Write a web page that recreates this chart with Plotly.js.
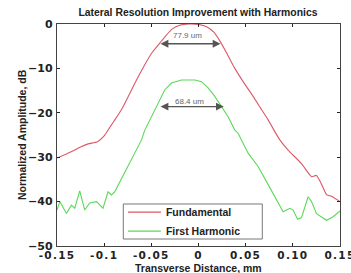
<!DOCTYPE html>
<html>
<head>
<meta charset="utf-8">
<script src="https://cdn.plot.ly/plotly-3.0.1.min.js"></script>
<style>html,body{margin:0;padding:0;background:#fff;}#chart{width:351px;height:273px;}.xtick text{letter-spacing:1.3px;}</style>
</head>
<body>
<div id="chart"></div>
<script>
var fundX = [-0.150, -0.135, -0.125, -0.117, -0.107, -0.100, -0.095, -0.090, -0.0817, -0.0737, -0.0657, -0.0578, -0.0498, -0.041, -0.0345, -0.0276, -0.020, -0.010, 0.000, 0.0085, 0.016, 0.0226, 0.030, 0.0385, 0.048, 0.0579, 0.066, 0.0738, 0.0862, 0.095, 0.109, 0.120, 0.125, 0.130, 0.136, 0.141, 0.150];
var fundY = [-30.2, -28.8, -27.7, -27.0, -26.5, -25.2, -23.6, -22.0, -19.3, -16.0, -12.6, -9.5, -6.6, -4.3, -2.6, -1.1, -0.3, 0.0, -0.1, -0.6, -1.8, -3.8, -6.6, -10.0, -13.2, -16.3, -19.0, -21.6, -26.1, -28.4, -31.4, -34.4, -34.1, -35.9, -38.5, -38.8, -40.0];
var harmX = [-0.150, -0.147, -0.140, -0.1347, -0.1312, -0.1259, -0.1206, -0.1153, -0.1082, -0.1012, -0.0959, -0.0923, -0.0888, -0.0604, -0.0569, -0.0498, -0.0428, -0.0357, -0.0286, -0.018, -0.0074, -0.0039, 0.0032, 0.0102, 0.0173, 0.0244, 0.0314, 0.0385, 0.042, 0.0526, 0.0632, 0.0721, 0.0827, 0.0897, 0.0968, 0.1003, 0.105, 0.1092, 0.1162, 0.1198, 0.1251, 0.1357, 0.1427, 0.150];
var harmY = [-41.9, -40.0, -42.7, -40.8, -41.5, -37.6, -41.9, -40.3, -40.0, -41.5, -37.8, -38.5, -37.8, -26.1, -23.9, -20.9, -17.8, -14.8, -13.3, -12.6, -12.6, -12.6, -13.0, -14.4, -16.3, -18.6, -20.9, -23.9, -24.6, -29.1, -32.1, -35.5, -39.7, -42.3, -41.5, -41.9, -44.0, -43.6, -38.9, -40.0, -42.7, -44.2, -43.4, -42.1];
var seriesNames = ['Fundamental', 'First Harmonic'];
var xTickVals = [-0.15, -0.1, -0.05, 0, 0.05, 0.1, 0.15];
var xTickText = ['-0.15', '-0.1', '-0.05', '0', '0.05', '0.10', '0.15'];
var yTickVals = [0, -10, -20, -30, -40, -50];
var widthLabels = ['77.9 um', '68.4 um'];
var widthArrowY = [-4.45, -18.6];
var widthArrowX0 = [-0.0418, -0.0418];
var widthArrowX1 = [0.0233, 0.0268];
var widthLabelY = [-2.6, -17.4];

var F = 'Liberation Sans, Arial, sans-serif';
var FT = 'DejaVu Sans, sans-serif';
var traces = [
  {x: fundX, y: fundY, type: 'scatter', mode: 'lines', name: seriesNames[0], line: {color: '#dc5866', width: 1.1, shape: 'spline', smoothing: 0.6}},
  {x: harmX, y: harmY, type: 'scatter', mode: 'lines', name: seriesNames[1], line: {color: '#5cd85a', width: 1.1}}
];
var ann = [];
for (var i = 0; i < widthLabels.length; i++) {
  ann.push({x: widthArrowX1[i], y: widthArrowY[i], ax: widthArrowX0[i], ay: widthArrowY[i], xref: 'x', yref: 'y', axref: 'x', ayref: 'y', text: '', showarrow: true, arrowhead: 2, arrowside: 'end+start', arrowsize: 1.2, arrowwidth: 1.3, arrowcolor: '#555'});
  ann.push({x: (widthArrowX0[i] + widthArrowX1[i]) / 2 - 0.002, y: widthLabelY[i], xref: 'x', yref: 'y', text: widthLabels[i], showarrow: false, font: {family: F, size: 8, color: '#666'}});
}
ann.push({x: 0.5, y: 0, xref: 'paper', yref: 'paper', yshift: -21.5, yanchor: 'middle', text: '<b>Transverse Distance, mm</b>', showarrow: false, font: {family: F, size: 10.5, color: '#222'}});
ann.push({x: 0, y: 0.5, xref: 'paper', yref: 'paper', xshift: -35, xanchor: 'center', yanchor: 'middle', textangle: -90, text: '<b>Normalized Amplitude, dB</b>', showarrow: false, font: {family: F, size: 10.5, color: '#222'}});

var axCommon = {showline: true, linecolor: '#444', linewidth: 1.2, mirror: 'ticks', ticks: 'inside', ticklen: 3, tickcolor: '#222', tickwidth: 1, showgrid: false, zeroline: false, tickfont: {family: FT, size: 11, color: '#222', weight: 'bold'}};
var layout = {
  width: 351, height: 273,
  margin: {l: 57, r: 11, t: 24, b: 27},
  paper_bgcolor: '#fff', plot_bgcolor: '#fff',
  showlegend: true,
  title: {text: '<b>Lateral Resolution Improvement with Harmonics</b>', font: {family: F, size: 10.4, color: '#222'}, x: 0.564, xanchor: 'center', y: 0.956, yanchor: 'middle'},
  xaxis: Object.assign({}, axCommon, {range: [-0.15, 0.15], tickvals: xTickVals, ticktext: xTickText, ticklabelstandoff: -1, ticklabeloverflow: 'allow', tickfont: {family: FT, size: 10.5, color: '#222', weight: 'bold'}}),
  yaxis: Object.assign({}, axCommon, {range: [-50, 0], tickvals: yTickVals, ticklabelstandoff: 1}),
  legend: {x: 0.233, y: 0.110, xanchor: 'left', yanchor: 'middle', bgcolor: 'rgba(0,0,0,0)', borderwidth: 0, font: {family: F, size: 10.5, color: '#222', weight: 'bold'}, itemwidth: 33, tracegroupgap: 0},
  shapes: [{type: 'rect', xref: 'paper', yref: 'paper', x0: 0.2343, x1: 0.7254, y0: 0.0315, y1: 0.1892, line: {color: '#777', width: 1}, fillcolor: '#fff', layer: 'above'}],
  annotations: ann
};
Plotly.newPlot('chart', traces, layout, {displayModeBar: false, staticPlot: true});
</script>
</body>
</html>
